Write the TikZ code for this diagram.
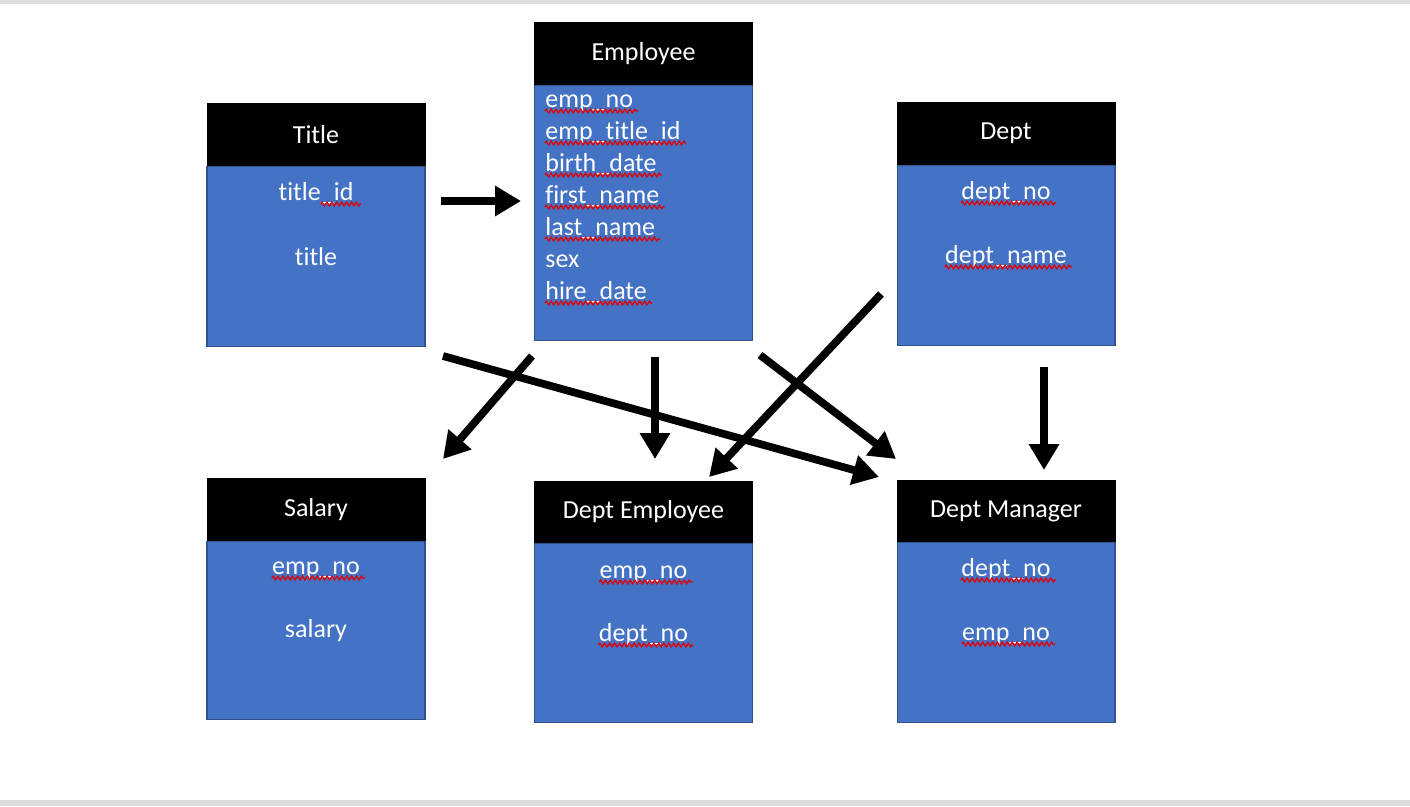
\documentclass[tikz,border=0pt]{standalone}
\usepackage{fontspec}
\setmainfont{Carlito}[Ligatures={NoCommon}]
\usetikzlibrary{arrows.meta,positioning,calc,decorations.pathmorphing}

\definecolor{tblue}{HTML}{4472C4}
\definecolor{tedge}{HTML}{2F528F}
\definecolor{band}{HTML}{DCDCDC}

% red spell-check wave under a field node
\newcommand{\squig}[1]{\draw[wavy] ($(#1.base west)+(0,4)$) -- ($(#1.base east)+(5,4)$);}

\begin{document}
\begin{tikzpicture}[x=0.02cm, y=-0.02cm,
    head/.style={rectangle, fill=black, draw=black, text=white, inner sep=0pt,
        minimum width=4.36cm, minimum height=1.24cm, font=\fontsize{14.8}{18}\selectfont},
    body/.style={rectangle, fill=tblue, draw=tedge, line width=0.6pt, inner sep=0pt,
        minimum width=4.36cm, minimum height=3.6cm, below=0pt of #1},
    field/.style={text=white, inner sep=0pt, anchor=base, font=\fontsize{14.8}{18}\selectfont},
    wavy/.style={red!90!black, line width=0.7pt, decorate,
        decoration={zigzag, amplitude=1.1pt, segment length=2.8pt}},
    arrow/.style={line width=4.4pt, -{Triangle[length=0.52cm, width=0.58cm]}}]

    % page and grey bands
    \fill[white] (0,0) rectangle (1410,806);
    \fill[band] (0,0) rectangle (1410,4);
    \fill[band] (0,800) rectangle (1410,806);

    % tables
    \node[head] (title) at (316,134.5) {Title};
    \node[body=title] (titlebody) {};
    \node[head] (emp) at (643.5,53.5) {Employee};
    \node[body=emp, minimum height=5.1cm] (empbody) {};
    \node[head] (dept) at (1006,133.5) {Dept};
    \node[body=dept] (deptbody) {};
    \node[head] (sal) at (316,509.5) {Salary};
    \node[body=sal, minimum height=3.56cm] (salbody) {};
    \node[head] (demp) at (643.5,512) {Dept Employee};
    \node[body=demp, minimum height=3.58cm] (dempbody) {};
    \node[head] (dmgr) at (1006,511) {Dept Manager};
    \node[body=dmgr] (dmgrbody) {};

    % fields
    \node[field] (tid) at (316,200) {title\_id};
    \node[field] (tname) at (316,265) {title};
    \draw[wavy] ($(tid.base east)+(-33,4)$) -- ($(tid.base east)+(7,4)$);

    \node[field, anchor=base west] (e1) at (545,107) {emp\_no};
    \node[field, anchor=base west] (e2) at (545,139) {emp\_title\_id};
    \node[field, anchor=base west] (e3) at (545,171) {birth\_date};
    \node[field, anchor=base west] (e4) at (545,203) {first\_name};
    \node[field, anchor=base west] (e5) at (545,235) {last\_name};
    \node[field, anchor=base west] (e6) at (545,267) {sex};
    \node[field, anchor=base west] (e7) at (545,299) {hire\_date};
    \foreach \f in {e1,e2,e3,e4,e5,e7} {\squig{\f}}

    \node[field] (d1) at (1006,199) {dept\_no};
    \node[field] (d2) at (1006,263) {dept\_name};
    \squig{d1} \squig{d2}

    \node[field] (s1) at (316,574) {emp\_no};
    \node[field] (s2) at (316,637) {salary};
    \squig{s1}

    \node[field] (de1) at (643.5,578) {emp\_no};
    \node[field] (de2) at (643.5,641) {dept\_no};
    \squig{de1} \squig{de2}

    \node[field] (dm1) at (1006,576) {dept\_no};
    \node[field] (dm2) at (1006,640) {emp\_no};
    \squig{dm1} \squig{dm2}

    % arrow ends
    \coordinate (t2e) at (441,201);   \coordinate (e2t) at (521,201);
    \coordinate (e2s) at (532,356);   \coordinate (s2e) at (443,459);
    \coordinate (e2d) at (655,357);   \coordinate (d2e) at (655,459);
    \coordinate (e2m) at (760,355);   \coordinate (m2e) at (896,459);
    \coordinate (t2m) at (443,356);   \coordinate (m2t) at (879,477);
    \coordinate (p2d) at (881,294);   \coordinate (d2p) at (709,477);
    \coordinate (p2m) at (1044,367);  \coordinate (m2p) at (1044,470);

    \draw[arrow] (t2e) -- (e2t);
    \draw[arrow] (e2s) -- (s2e);
    \draw[arrow] (e2d) -- (d2e);
    \draw[arrow] (e2m) -- (m2e);
    \draw[arrow] (t2m) -- (m2t);
    \draw[arrow] (p2d) -- (d2p);
    \draw[arrow] (p2m) -- (m2p);
\end{tikzpicture}
\end{document}
